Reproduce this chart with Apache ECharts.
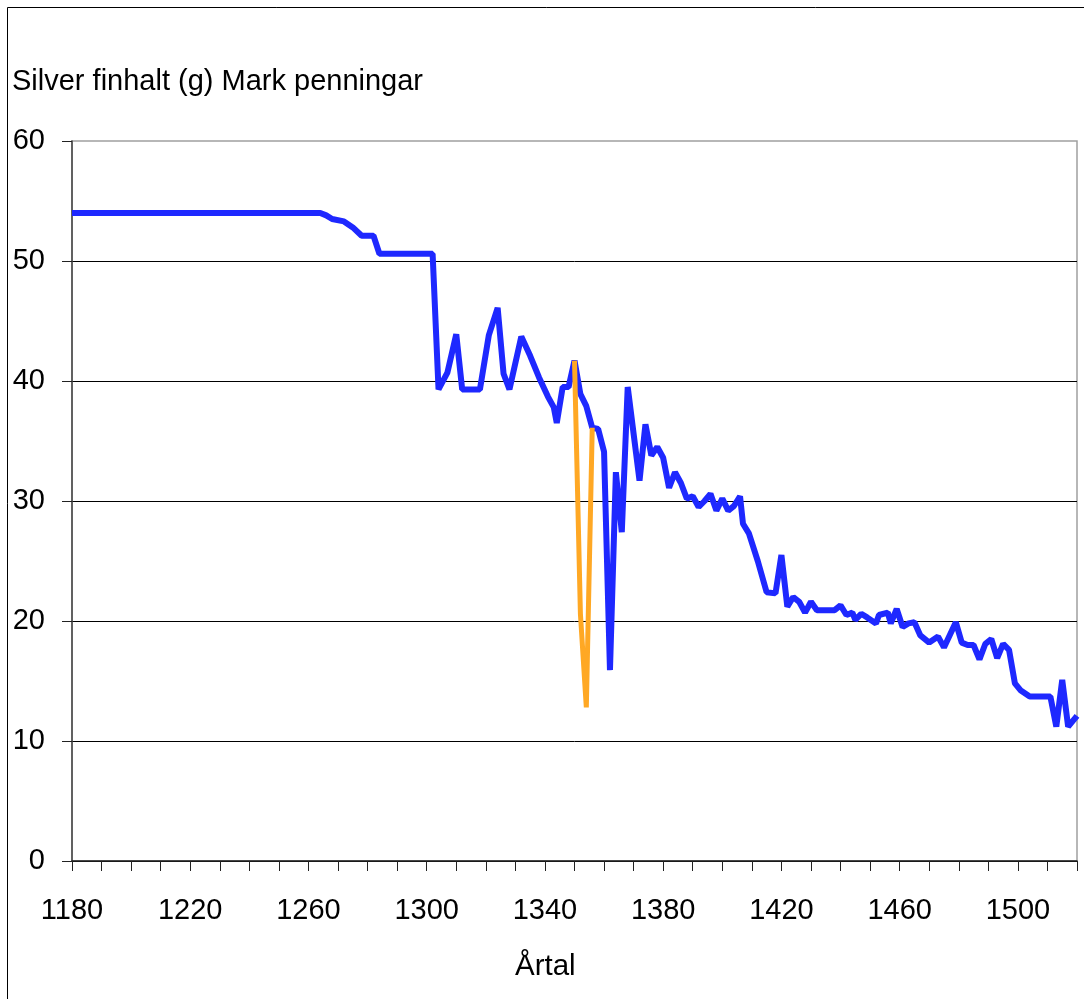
<!DOCTYPE html>
<html>
<head>
<meta charset="utf-8">
<script src="https://cdn.jsdelivr.net/npm/echarts@6/dist/echarts.min.js"></script>
<style>
  html, body { margin: 0; padding: 0; background: #fff; }
  #chart { width: 1084px; height: 999px; }
</style>
</head>
<body>
<div id="chart"></div>
<script>
// years and silver content (g) per mark penningar
const years = [1180, 1264, 1266, 1268, 1272, 1275, 1278, 1282, 1284, 1302,
  1304, 1307, 1310, 1312, 1318, 1321, 1324, 1326, 1328, 1332,
  1335, 1338, 1341, 1343, 1344, 1346, 1348, 1350, 1352, 1354,
  1356, 1358, 1360, 1362, 1364, 1366, 1368, 1372, 1374, 1376,
  1378, 1380, 1382, 1384, 1386, 1388, 1390, 1392, 1394, 1396,
  1398, 1400, 1402, 1404, 1406, 1407, 1409, 1412, 1415, 1418,
  1420, 1422, 1424, 1426, 1428, 1430, 1432, 1438, 1440, 1442,
  1444, 1445, 1447, 1449, 1452, 1453, 1456, 1457, 1459, 1461,
  1463, 1465, 1467, 1470, 1473, 1475, 1479, 1481, 1483, 1485,
  1487, 1489, 1491, 1493, 1495, 1497, 1499, 1501, 1504, 1511,
  1513, 1515, 1517, 1520]
const silver = [54.0, 54.0, 53.8, 53.5, 53.3, 52.8, 52.1, 52.1, 50.6, 50.6,
  39.3, 40.7, 43.9, 39.3, 39.3, 43.8, 46.1, 40.6, 39.3, 43.7,
  42.1, 40.3, 38.7, 37.8, 36.5, 39.5, 39.5, 41.7, 38.9, 37.9,
  36.1, 36.0, 34.1, 15.9, 32.4, 27.4, 39.5, 31.7, 36.4, 33.8,
  34.5, 33.6, 31.1, 32.4, 31.5, 30.2, 30.4, 29.5, 30.0, 30.6,
  29.2, 30.2, 29.2, 29.6, 30.4, 28.1, 27.3, 25.0, 22.4, 22.3,
  25.5, 21.2, 22.0, 21.6, 20.7, 21.6, 20.9, 20.9, 21.3, 20.5,
  20.7, 20.1, 20.6, 20.3, 19.8, 20.5, 20.7, 19.8, 21.0, 19.5,
  19.8, 19.9, 18.8, 18.2, 18.7, 17.8, 19.9, 18.2, 18.0, 18.0,
  16.8, 18.1, 18.5, 16.9, 18.1, 17.6, 14.8, 14.2, 13.7, 13.7,
  11.2, 15.1, 11.2, 12.1]

// the orange dip around 1350
const dipYears = [1350, 1352, 1354, 1356]
const dipSilver = [41.7, 20.6, 12.8, 36.1]

const xTicks = [1180, 1220, 1260, 1300, 1340, 1380, 1420, 1460, 1500]

const font = "'Liberation Sans', Arial, sans-serif"

const chart = echarts.init(document.getElementById("chart"))
const option = {
  animation: false,
  backgroundColor: "#fff",
  graphic: [
    {
      type: "rect",
      shape: { x: 7.5, y: 7.5, width: 1200, height: 1200 },
      style: { fill: "none", stroke: "#000", lineWidth: 1 },
      silent: true,
      z: -10
    }
  ],
  title: [
    {
      text: "Silver finhalt (g) Mark penningar",
      left: 12,
      top: 67,
      padding: 0,
      textStyle: { fontFamily: font, fontSize: 29, fontWeight: "normal", color: "#000" }
    },
    {
      text: "Årtal",
      left: 515,
      top: 952,
      padding: 0,
      textStyle: { fontFamily: font, fontSize: 29.5, fontWeight: "normal", color: "#000" }
    }
  ],
  grid: {
    left: 72,
    top: 141,
    right: 7,
    bottom: 138,
    show: true,
    borderColor: "#a0a0a0",
    borderWidth: 1.5
  },
  xAxis: {
    type: "value",
    min: 1180,
    max: 1520,
    interval: 10,
    axisLine: { onZero: false, lineStyle: { color: "#222", width: 1.5 } },
    axisTick: { length: 10, lineStyle: { color: "#222" } },
    axisLabel: {
      margin: 35,
      fontFamily: font,
      fontSize: 29,
      color: "#000",
      formatter: (v) => (xTicks.includes(v) ? String(v) : "")
    },
    splitLine: { show: false }
  },
  yAxis: {
    type: "value",
    min: 0,
    max: 60,
    interval: 10,
    axisLine: { show: true, lineStyle: { color: "#444", width: 1.5 } },
    axisTick: { show: true, length: 10, lineStyle: { color: "#222" } },
    axisLabel: { margin: 27, fontFamily: font, fontSize: 29, color: "#000" },
    splitLine: { show: true, showMaxLine: false, lineStyle: { color: "#000", width: 1 } }
  },
  series: [
    {
      type: "line",
      showSymbol: false,
      data: years.map((y, i) => [y, silver[i]]),
      lineStyle: { color: "#1e28ff", width: 6 },
      itemStyle: { color: "#1e28ff" }
    },
    {
      type: "line",
      showSymbol: false,
      data: dipYears.map((y, i) => [y, dipSilver[i]]),
      lineStyle: { color: "#ffa824", width: 5 },
      itemStyle: { color: "#ffa824" }
    }
  ]
}
chart.setOption(option)
</script>
</body>
</html>
